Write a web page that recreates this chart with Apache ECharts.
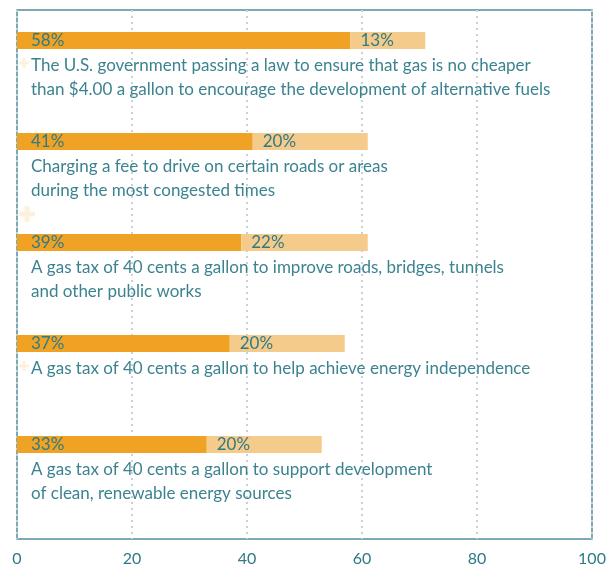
<!DOCTYPE html>
<html>
<head>
<meta charset="utf-8">
<script src="https://cdn.jsdelivr.net/npm/echarts@6/dist/echarts.min.js"></script>
<style>
  html, body { margin: 0; padding: 0; background: #fff; }
  #chart { width: 613px; height: 569px; }
</style>
</head>
<body>
<div id="chart"></div>
<script>
var categories = [
  'The U.S. government passing a law to ensure that gas is no cheaper\nthan $4.00 a gallon to encourage the development of alternative fuels',
  'Charging a fee to drive on certain roads or areas\nduring the most congested times',
  'A gas tax of 40 cents a gallon to improve roads, bridges, tunnels\nand other public works',
  'A gas tax of 40 cents a gallon to help achieve energy independence',
  'A gas tax of 40 cents a gallon to support development\nof clean, renewable energy sources'
];
var strongly = [58, 41, 39, 37, 33];
var somewhat = [13, 20, 22, 20, 20];
var xTicks = [0, 20, 40, 60, 80, 100];

var teal = '#3b8390';
var font = 'Lato';

// faint plus-sign decorations at the left edge
function plus(cx, cy, size, w) {
  var style = { fill: '#fdf0dc' };
  return [
    { type: 'rect', shape: { x: cx - size / 2, y: cy - w / 2, width: size, height: w }, style: style, z: -1 },
    { type: 'rect', shape: { x: cx - w / 2, y: cy - size / 2, width: w, height: size }, style: style, z: -1 }
  ];
}

var chart = echarts.init(document.getElementById('chart'));

var option = {
  animation: false,
  graphic: [].concat(plus(24, 63, 10, 3), plus(27, 214, 16, 5), plus(24, 366, 10, 3)),
  grid: [
    // bars: category ticks sit at the bar centres
    { left: 17, right: 21, top: 40.5, bottom: 124.5 },
    // frame + x axis
    { left: 17, right: 21, top: 10, bottom: 30, show: true, borderColor: '#4f8f99', borderWidth: 1.5, backgroundColor: 'transparent' }
  ],
  xAxis: [
    { gridIndex: 0, type: 'value', min: 0, max: 100, show: false },
    {
      gridIndex: 1, type: 'value', min: 0, max: 100, interval: 20,
      axisLine: { show: false },
      axisTick: { show: false },
      axisLabel: {
        margin: 12, color: '#2f7a86', fontFamily: font, fontSize: 16,
        formatter: function (v) { return xTicks.indexOf(v) >= 0 ? String(v) : ''; }
      },
      splitLine: {
        show: true,
        lineStyle: { color: '#c9d1d8', width: 2, type: [2, 4] }
      }
    }
  ],
  yAxis: [
    {
      gridIndex: 0, type: 'category', inverse: true, boundaryGap: false, data: categories,
      axisLine: { show: false },
      axisTick: { show: false },
      axisLabel: {
        inside: true, margin: 14, align: 'left', verticalAlign: 'top',
        padding: [13, 0, 0, 0], lineHeight: 24,
        color: teal, fontFamily: font, fontSize: 17
      }
    },
    { gridIndex: 1, type: 'value', show: false }
  ],
  series: [
    {
      type: 'bar', xAxisIndex: 0, yAxisIndex: 0, stack: 'total',
      data: strongly, barWidth: 17,
      itemStyle: { color: '#efa223' },
      label: {
        show: true, position: 'insideLeft', distance: 14,
        color: '#2f7a86', fontFamily: font, fontSize: 17,
        formatter: '{c}%'
      }
    },
    {
      type: 'bar', xAxisIndex: 0, yAxisIndex: 0, stack: 'total',
      data: somewhat, barWidth: 17,
      itemStyle: { color: '#f5cb8b' },
      label: {
        show: true, position: 'insideLeft', distance: 10,
        color: '#2f7a86', fontFamily: font, fontSize: 17,
        formatter: '{c}%'
      }
    }
  ]
};

chart.setOption(option);
window.addEventListener('resize', function () { chart.resize(); });
</script>
</body>
</html>
